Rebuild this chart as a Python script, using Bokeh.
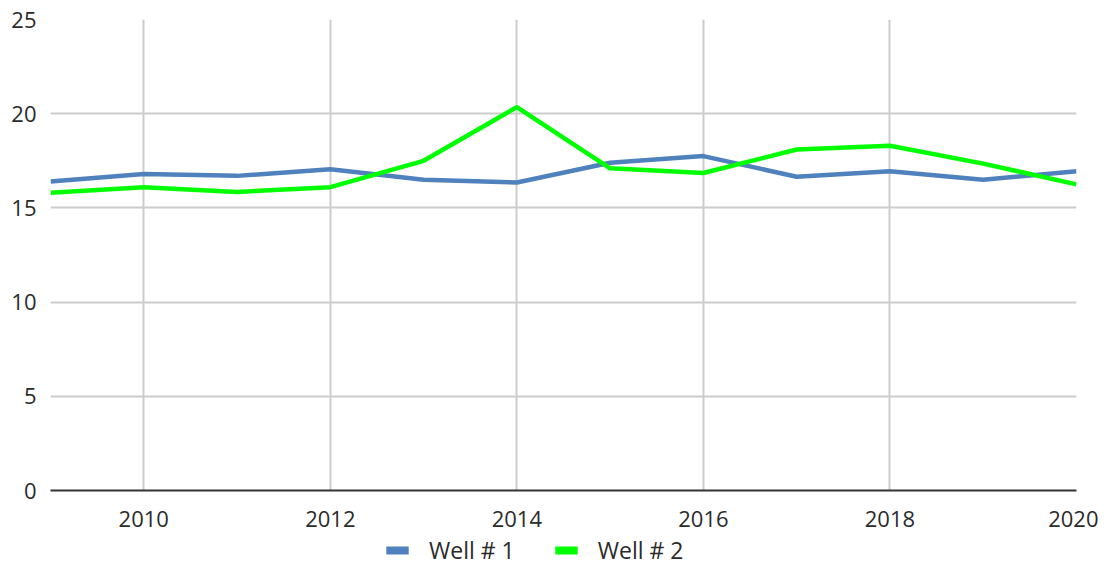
from bokeh.plotting import figure
from bokeh.models import Range1d, Legend, LegendItem, ColumnDataSource, FixedTicker
from bokeh.layouts import column
from bokeh.embed import file_html
from bokeh.resources import INLINE

years = [2009, 2010, 2011, 2012, 2013, 2014, 2015, 2016, 2017, 2018, 2019, 2020]
well1 = [16.4, 16.8, 16.7, 17.05, 16.5, 16.35, 17.4, 17.75, 16.65, 16.95, 16.5, 16.95]
well2 = [15.8, 16.1, 15.85, 16.1, 17.5, 20.35, 17.1, 16.85, 18.1, 18.3, 17.35, 16.25]
x_ticks = [2010, 2012, 2014, 2016, 2018, 2020]
y_ticks = [0, 5, 10, 15, 20, 25]
series_names = ["Well # 1", "Well # 2"]
colors = ["#4F81BD", "#00FF00"]

FONT = "Open Sans"
TXT = "#2b2b2b"
W = 1098

p = figure(width=W, height=531, output_backend="svg", toolbar_location=None,
           x_range=Range1d(2009, 2020), y_range=Range1d(0, 25),
           min_border_left=50, min_border_right=22, min_border_top=19, min_border_bottom=41)
p.outline_line_color = None
p.background_fill_color = "white"

src = ColumnDataSource(dict(x=years, w1=well1, w2=well2))
r1 = p.line("x", "w1", source=src, line_color=colors[0], line_width=4.5)
r2 = p.line("x", "w2", source=src, line_color=colors[1], line_width=4.5)

p.xaxis.ticker = FixedTicker(ticks=x_ticks)
p.yaxis.ticker = FixedTicker(ticks=y_ticks)
for ax in (p.xaxis[0], p.yaxis[0]):
    ax.major_tick_line_color = None
    ax.minor_tick_line_color = None
    ax.major_label_text_font = FONT
    ax.major_label_text_font_size = "22px"
    ax.major_label_text_color = TXT
p.yaxis.axis_line_color = None
p.yaxis.major_label_standoff = 8
p.xaxis.axis_line_color = "#333333"
p.xaxis.axis_line_width = 2
p.xaxis.major_label_standoff = 14

p.xgrid.ticker = FixedTicker(ticks=x_ticks)
p.ygrid.ticker = FixedTicker(ticks=y_ticks)
for g in (p.xgrid[0], p.ygrid[0]):
    g.grid_line_color = "#cccccc"
    g.grid_line_width = 2

# legend strip
lg = figure(width=W, height=38, output_backend="svg", toolbar_location=None,
            x_axis_location=None, y_axis_location=None,
            x_range=Range1d(0, 1), y_range=Range1d(0, 1),
            min_border_left=0, min_border_right=0, min_border_top=0, min_border_bottom=0)
lg.outline_line_color = None
lg.xgrid.visible = False
lg.ygrid.visible = False
nan = float("nan")
e1 = lg.quad(left=[nan], right=[nan], top=[nan], bottom=[nan], fill_color=colors[0], line_color=None)
e2 = lg.quad(left=[nan], right=[nan], top=[nan], bottom=[nan], fill_color=colors[1], line_color=None)

legend = Legend(items=[LegendItem(label=series_names[0], renderers=[e1]),
                       LegendItem(label=series_names[1], renderers=[e2])],
                location=(333, 3), orientation="horizontal",
                padding=0, margin=0, border_line_color=None, background_fill_alpha=0,
                glyph_width=28, glyph_height=10, label_height=24, label_standoff=18,
                spacing=37, label_text_font=FONT, label_text_font_size="23px",
                label_text_color=TXT)
lg.add_layout(legend, "center")

layout = column(p, lg, spacing=0)
open("out.html", "w").write(file_html(layout, INLINE))
